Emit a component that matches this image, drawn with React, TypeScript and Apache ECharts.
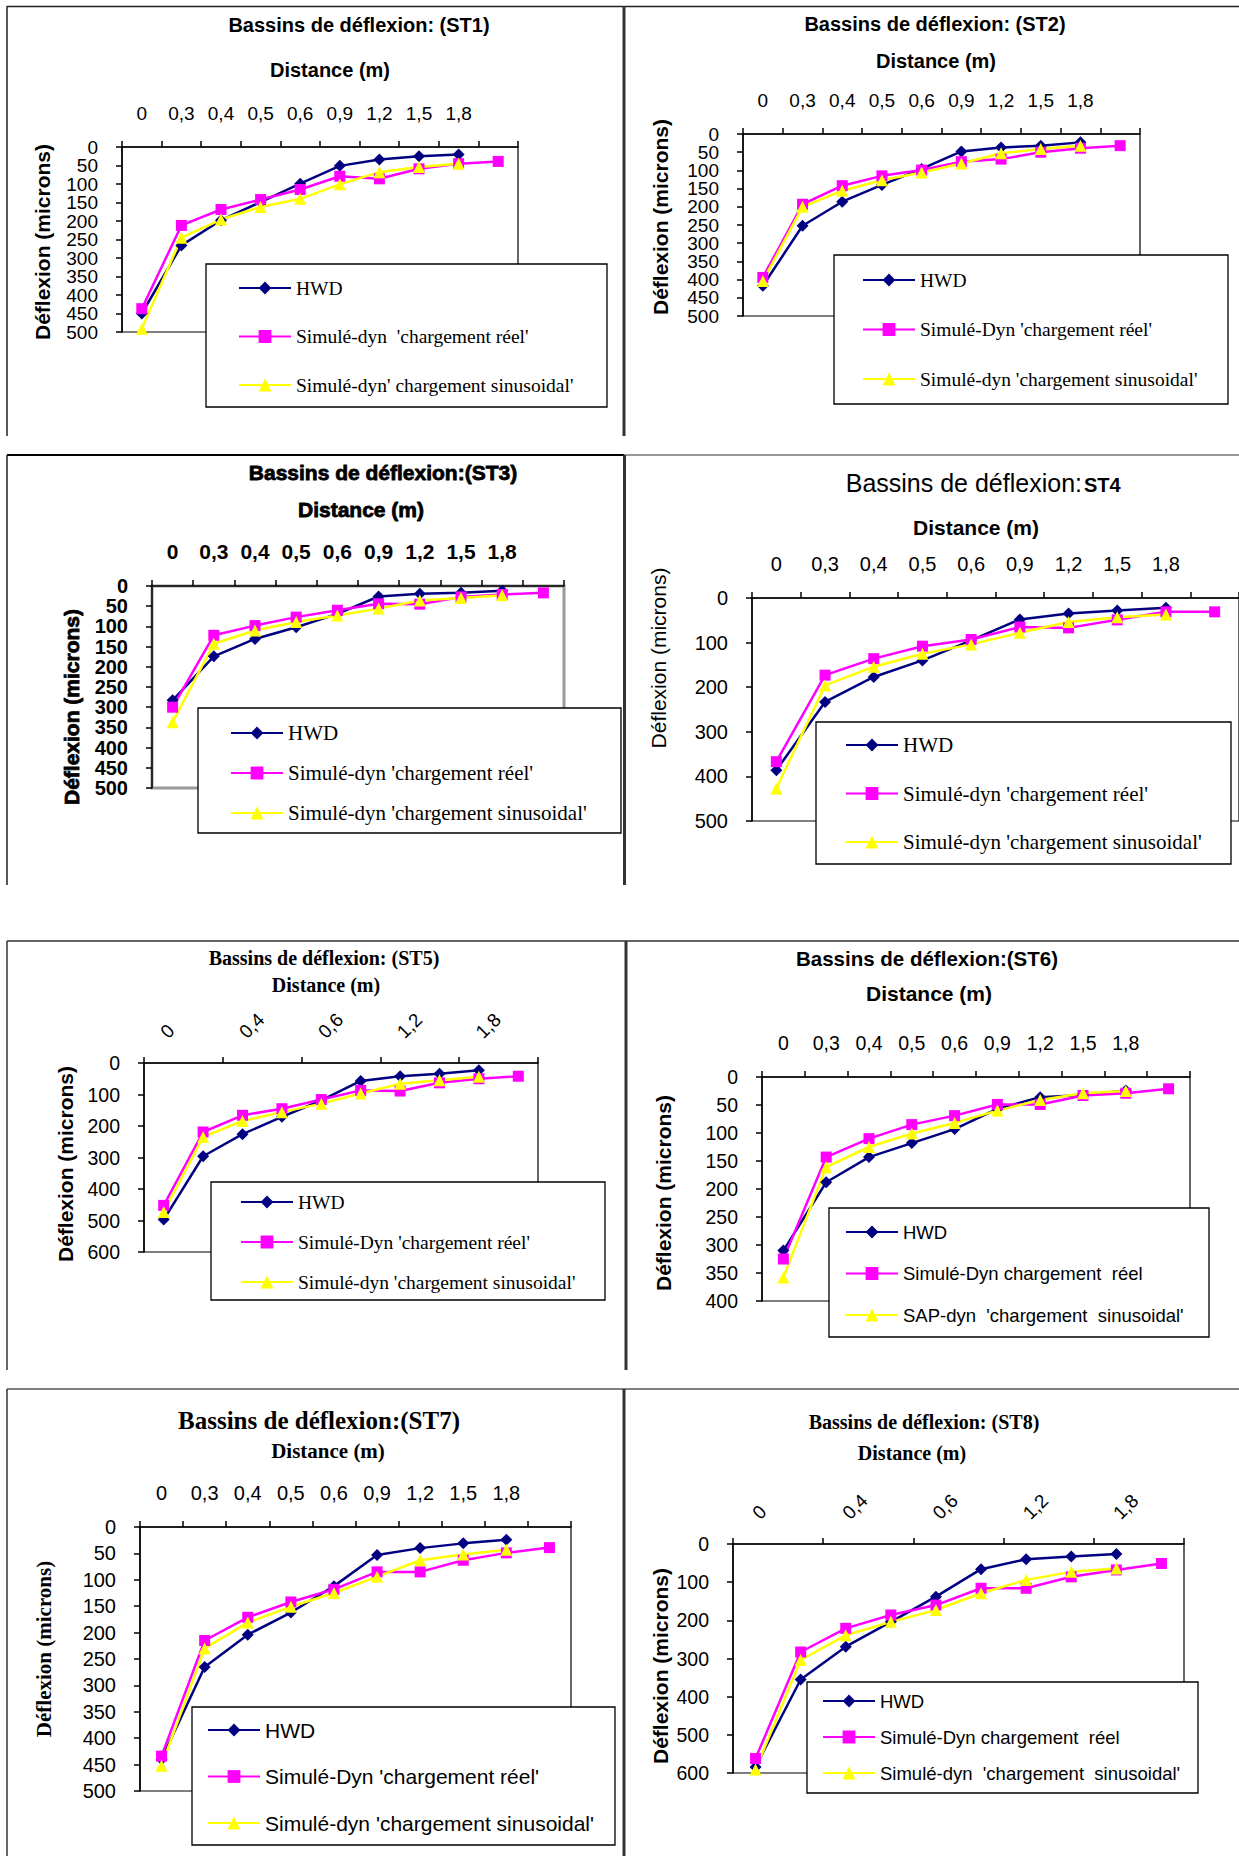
import React, { useEffect, useRef } from "react";
import * as echarts from "echarts";

// ---------- DATA ----------
const CATEGORIES = ["0", "0,3", "0,4", "0,5", "0,6", "0,9", "1,2", "1,5", "1,8", ""];

const ST1_HWD = [450, 266, 198, 149, 99, 51, 34, 25, 20];
const ST1_REEL = [437, 212, 169, 142, 115, 79, 86, 59, 45, 39];
const ST1_SINUS = [491, 245, 196, 162, 140, 101, 68, 54, 45];

const ST2_HWD = [417, 252, 186, 140, 96, 48, 37, 32, 23];
const ST2_REEL = [394, 193, 142, 115, 99, 76, 69, 50, 39, 32];
const ST2_SINUS = [404, 200, 156, 127, 106, 81, 53, 41, 32];

const ST3_HWD = [283, 174, 131, 102, 69, 26, 19, 17, 12];
const ST3_REEL = [300, 122, 98, 77, 60, 44, 45, 27, 21, 17];
const ST3_SINUS = [337, 143, 110, 89, 73, 56, 36, 30, 23];

const ST4_HWD = [386, 233, 177, 140, 95, 48, 35, 28, 22];
const ST4_REEL = [367, 173, 136, 108, 93, 65, 67, 49, 31, 31];
const ST4_SINUS = [427, 196, 154, 125, 104, 78, 54, 43, 37];

const ST5_HWD = [497, 296, 226, 171, 119, 57, 42, 34, 23];
const ST5_REEL = [452, 219, 166, 145, 116, 87, 89, 63, 50, 42];
const ST5_SINUS = [473, 235, 184, 156, 129, 97, 66, 55, 44];

const ST6_HWD = [310, 188, 143, 118, 93, 57, 36, 32, 24];
const ST6_REEL = [325, 143, 110, 85, 69, 49, 49, 33, 29, 21];
const ST6_SINUS = [358, 161, 125, 101, 82, 60, 41, 29, 25];

const ST7_HWD = [440, 265, 204, 162, 112, 53, 40, 31, 24];
const ST7_REEL = [434, 215, 171, 142, 118, 85, 85, 63, 49, 39];
const ST7_SINUS = [452, 230, 181, 151, 125, 94, 63, 52, 43];

const ST8_HWD = [584, 355, 269, 204, 138, 66, 40, 33, 26];
const ST8_REEL = [562, 283, 221, 186, 160, 116, 116, 86, 68, 51];
const ST8_SINUS = [591, 304, 239, 204, 173, 129, 94, 73, 64];

// ---------- STYLE ----------
const SANS = "'Liberation Sans', Arial, Helvetica, sans-serif";
const SERIF = "'Liberation Serif', 'Times New Roman', serif";
const NAVY = "#000080";
const MAGENTA = "#ff00ff";
const YELLOW = "#ffff00";

type Txt = { text: string; x: number; y: number; font: string; heavy?: boolean; align?: string; rot?: boolean };

interface Panel {
  hwd: number[];
  reel: number[];
  sinus: number[];
  names: string[];
  yMax: number;
  yStep: number;
  grid: number[];
  gray?: boolean;
  rotate?: boolean;
  tick: { size: number; ySize: number; weight: string };
  texts: Txt[];
  box: number[];
  legend: { left: number; top: number; gap: number; size: number; family: string };
}

const PANELS: Panel[] = [
  {
    hwd: ST1_HWD, reel: ST1_REEL, sinus: ST1_SINUS,
    names: ["HWD", "Simulé-dyn  'chargement réel'", "Simulé-dyn' chargement sinusoidal'"],
    yMax: 500, yStep: 50, grid: [122, 147, 396, 185],
    tick: { size: 19, ySize: 19, weight: "normal" },
    texts: [
      { text: "Bassins de déflexion: (ST1)", x: 359, y: 25, font: `bold 20px ${SANS}` },
      { text: "Distance (m)", x: 330, y: 70, font: `bold 20px ${SANS}` },
      { text: "Déflexion (microns)", x: 42, y: 242, font: `bold 21px ${SANS}`, rot: true },
    ],
    box: [206, 264, 607, 407],
    legend: { left: 238, top: 277, gap: 26.5, size: 19.5, family: SERIF },
  },
  {
    hwd: ST2_HWD, reel: ST2_REEL, sinus: ST2_SINUS,
    names: ["HWD", "Simulé-Dyn 'chargement réel'", "Simulé-dyn 'chargement sinusoidal'"],
    yMax: 500, yStep: 50, grid: [743, 134, 397, 182],
    tick: { size: 19, ySize: 19, weight: "normal" },
    texts: [
      { text: "Bassins de déflexion: (ST2)", x: 935, y: 24, font: `bold 20px ${SANS}` },
      { text: "Distance (m)", x: 936, y: 61, font: `bold 20px ${SANS}` },
      { text: "Déflexion (microns)", x: 660, y: 217, font: `bold 21px ${SANS}`, rot: true },
    ],
    box: [834, 255, 1228, 404],
    legend: { left: 862, top: 269, gap: 27.5, size: 19.5, family: SERIF },
  },
  {
    hwd: ST3_HWD, reel: ST3_REEL, sinus: ST3_SINUS,
    names: ["HWD", "Simulé-dyn 'chargement réel'", "Simulé-dyn 'chargement sinusoidal'"],
    yMax: 500, yStep: 50, grid: [152, 586, 412, 202], gray: true,
    tick: { size: 21, ySize: 20, weight: "bold" },
    texts: [
      { text: "Bassins de déflexion:(ST3)", x: 383, y: 472, font: `bold 21px ${SANS}`, heavy: true },
      { text: "Distance (m)", x: 361, y: 509, font: `bold 21px ${SANS}`, heavy: true },
      { text: "Déflexion (microns)", x: 71, y: 707, font: `bold 21px ${SANS}`, heavy: true, rot: true },
    ],
    box: [198, 708, 621, 833],
    legend: { left: 230, top: 722, gap: 18, size: 21, family: SERIF },
  },
  {
    hwd: ST4_HWD, reel: ST4_REEL, sinus: ST4_SINUS,
    names: ["HWD", "Simulé-dyn 'chargement réel'", "Simulé-dyn 'chargement sinusoidal'"],
    yMax: 500, yStep: 100, grid: [752, 598, 490, 223],
    tick: { size: 20, ySize: 20, weight: "normal" },
    texts: [
      { text: "Bassins de déflexion:", x: 1082, y: 483, font: `25px ${SANS}`, align: "right" },
      { text: "ST4", x: 1084, y: 485, font: `bold 20px ${SANS}`, align: "left" },
      { text: "Distance (m)", x: 976, y: 527, font: `bold 21px ${SANS}` },
      { text: "Déflexion (microns)", x: 658, y: 658, font: `21px ${SANS}`, rot: true },
    ],
    box: [816, 722, 1231, 864],
    legend: { left: 845, top: 734, gap: 26.5, size: 21, family: SERIF },
  },
  {
    hwd: ST5_HWD, reel: ST5_REEL, sinus: ST5_SINUS,
    names: ["HWD", "Simulé-Dyn 'chargement réel'", "Simulé-dyn 'chargement sinusoidal'"],
    yMax: 600, yStep: 100, grid: [144, 1063, 394, 189], rotate: true,
    tick: { size: 19, ySize: 19.5, weight: "normal" },
    texts: [
      { text: "Bassins de déflexion: (ST5)", x: 324, y: 958, font: `bold 20px ${SERIF}` },
      { text: "Distance (m)", x: 326, y: 985, font: `bold 20px ${SERIF}` },
      { text: "Déflexion (microns)", x: 65, y: 1164, font: `bold 21px ${SANS}`, rot: true },
    ],
    box: [211, 1182, 605, 1300],
    legend: { left: 240, top: 1191, gap: 18, size: 19.5, family: SERIF },
  },
  {
    hwd: ST6_HWD, reel: ST6_REEL, sinus: ST6_SINUS,
    names: ["HWD", "Simulé-Dyn chargement  réel", "SAP-dyn  'chargement  sinusoidal'"],
    yMax: 400, yStep: 50, grid: [762, 1077, 428, 224],
    tick: { size: 19.5, ySize: 19.5, weight: "normal" },
    texts: [
      { text: "Bassins de déflexion:(ST6)", x: 927, y: 958, font: `bold 20.5px ${SANS}` },
      { text: "Distance (m)", x: 929, y: 993, font: `bold 21px ${SANS}` },
      { text: "Déflexion (microns)", x: 663, y: 1193, font: `bold 21px ${SANS}`, rot: true },
    ],
    box: [829, 1208, 1209, 1337],
    legend: { left: 845, top: 1221, gap: 19.5, size: 18.5, family: SANS },
  },
  {
    hwd: ST7_HWD, reel: ST7_REEL, sinus: ST7_SINUS,
    names: ["HWD", "Simulé-Dyn 'chargement réel'", "Simulé-dyn 'chargement sinusoidal'"],
    yMax: 500, yStep: 50, grid: [140, 1527, 431, 264],
    tick: { size: 20, ySize: 20, weight: "normal" },
    texts: [
      { text: "Bassins de déflexion:(ST7)", x: 319, y: 1420, font: `bold 25px ${SERIF}` },
      { text: "Distance (m)", x: 328, y: 1451, font: `bold 21px ${SERIF}` },
      { text: "Déflexion (microns)", x: 44, y: 1649, font: `bold 21px ${SERIF}`, rot: true },
    ],
    box: [192, 1707, 615, 1845],
    legend: { left: 207, top: 1719, gap: 24.5, size: 21, family: SANS },
  },
  {
    hwd: ST8_HWD, reel: ST8_REEL, sinus: ST8_SINUS,
    names: ["HWD", "Simulé-Dyn chargement  réel", "Simulé-dyn  'chargement  sinusoidal'"],
    yMax: 600, yStep: 100, grid: [733, 1544, 451, 229], rotate: true,
    tick: { size: 19, ySize: 19.5, weight: "normal" },
    texts: [
      { text: "Bassins de déflexion: (ST8)", x: 924, y: 1422, font: `bold 20px ${SERIF}` },
      { text: "Distance (m)", x: 912, y: 1453, font: `bold 20px ${SERIF}` },
      { text: "Déflexion (microns)", x: 660, y: 1666, font: `bold 21px ${SANS}`, rot: true },
    ],
    box: [807, 1682, 1198, 1793],
    legend: { left: 822, top: 1690, gap: 14, size: 18.5, family: SANS },
  },
];

// Panel frame lines
const FRAMES: { p: number[]; c: string; w: number }[] = [
  { p: [7, 6.5, 1239, 6.5], c: "#222", w: 1.5 },
  { p: [7, 6, 7, 436], c: "#222", w: 1.5 },
  { p: [624, 6, 624, 436], c: "#333", w: 3 },
  { p: [7, 455, 624, 455], c: "#000", w: 2 },
  { p: [624, 455, 1239, 455], c: "#777", w: 1.5 },
  { p: [7, 455, 7, 885], c: "#222", w: 1.5 },
  { p: [624.5, 455, 624.5, 885], c: "#333", w: 3 },
  { p: [7, 941, 1239, 941], c: "#333", w: 1.5 },
  { p: [7, 941, 7, 1370], c: "#333", w: 1.5 },
  { p: [626, 941, 626, 1370], c: "#333", w: 3 },
  { p: [7, 1389, 1239, 1389], c: "#555", w: 1.5 },
  { p: [7, 1389, 7, 1856], c: "#333", w: 1.5 },
  { p: [624, 1389, 624, 1856], c: "#333", w: 3 },
];

function buildOption() {
  const axisLineStyle = { color: "#000", width: 1.5 };
  const grid = PANELS.map((p) => ({
    left: p.grid[0], top: p.grid[1], width: p.grid[2], height: p.grid[3],
    show: true,
    backgroundColor: "rgba(0,0,0,0)",
    borderColor: p.gray ? "#9a9a9a" : "#000",
    borderWidth: p.gray ? 3 : 1.2,
  }));
  const xAxis = PANELS.map((p, i) => ({
    type: "category",
    gridIndex: i,
    position: "top",
    data: CATEGORIES,
    boundaryGap: true,
    axisLine: { show: true, lineStyle: axisLineStyle },
    axisTick: { show: true, length: 6, lineStyle: axisLineStyle },
    splitLine: { show: false },
    axisLabel: {
      interval: p.rotate ? 1 : 0,
      rotate: p.rotate ? 45 : 0,
      margin: p.rotate ? 28 : 24,
      hideOverlap: false,
      color: "#000",
      fontFamily: SANS,
      fontSize: p.tick.size,
      fontWeight: p.tick.weight,
    },
  }));
  const labelStyle = (p: Panel) => ({
    margin: 24,
    hideOverlap: false,
    color: "#000",
    fontFamily: SANS,
    fontSize: p.tick.ySize,
    fontWeight: p.tick.weight,
  });
  // main value axes: inner labels (first/last are drawn by the companion axis below)
  const yMain = PANELS.map((p, i) => ({
    type: "value",
    gridIndex: i,
    position: "left",
    inverse: true,
    min: 0,
    max: p.yMax,
    interval: p.yStep,
    axisLine: { show: true, lineStyle: axisLineStyle },
    axisTick: { show: true, length: 6, lineStyle: axisLineStyle },
    splitLine: { show: false },
    axisLabel: { ...labelStyle(p), showMinLabel: false, showMaxLabel: false },
  }));
  // companion axes on the same scale carrying the end labels (0 and max)
  const yEnds = PANELS.map((p, i) => ({
    type: "value",
    gridIndex: i,
    position: "left",
    inverse: true,
    min: 0,
    max: p.yMax,
    interval: p.yMax,
    axisLine: { show: false },
    axisTick: { show: true, length: 6, lineStyle: axisLineStyle },
    splitLine: { show: false },
    axisLabel: { ...labelStyle(p), showMinLabel: true, showMaxLabel: true },
  }));
  const series: any[] = [];
  PANELS.forEach((p, i) => {
    const common = { type: "line", xAxisIndex: i, yAxisIndex: i, showAllSymbol: true, z: 2 };
    series.push({
      ...common, name: p.names[0], data: p.hwd, symbol: "diamond", symbolSize: 12,
      lineStyle: { color: NAVY, width: 2.5 }, itemStyle: { color: NAVY },
    });
    series.push({
      ...common, name: p.names[1], data: p.reel, symbol: "rect", symbolSize: 11,
      lineStyle: { color: MAGENTA, width: 2.5 }, itemStyle: { color: MAGENTA },
    });
    series.push({
      ...common, name: p.names[2], data: p.sinus, symbol: "triangle", symbolSize: 12,
      lineStyle: { color: YELLOW, width: 2.5 }, itemStyle: { color: YELLOW },
    });
  });
  const legend = PANELS.map((p) => ({
    orient: "vertical",
    left: p.legend.left,
    top: p.legend.top,
    itemGap: p.legend.gap,
    itemWidth: 52,
    itemHeight: 16,
    padding: 0,
    selectedMode: false,
    data: p.names,
    textStyle: { color: "#000", fontFamily: p.legend.family, fontSize: p.legend.size, lineHeight: 22 },
  }));

  const elements: any[] = [];
  FRAMES.forEach((f) => {
    elements.push({
      type: "line", z: 6,
      shape: { x1: f.p[0], y1: f.p[1], x2: f.p[2], y2: f.p[3] },
      style: { stroke: f.c, lineWidth: f.w },
    });
  });
  PANELS.forEach((p) => {
    elements.push({
      type: "rect", z: 3,
      shape: { x: p.box[0], y: p.box[1], width: p.box[2] - p.box[0], height: p.box[3] - p.box[1] },
      style: { fill: "#fff", stroke: "#000", lineWidth: 1.3 },
    });
    p.texts.forEach((t) => {
      const style: any = {
        text: t.text,
        font: t.font,
        fill: "#000",
        textAlign: t.align || "center",
        textVerticalAlign: "middle",
      };
      if (t.heavy) {
        style.stroke = "#000";
        style.lineWidth = 0.8;
      }
      elements.push({
        type: "text", z: 5,
        x: t.x, y: t.y,
        rotation: t.rot ? Math.PI / 2 : 0,
        style,
      });
    });
  });

  return {
    animation: false,
    backgroundColor: "#fff",
    grid,
    xAxis,
    yAxis: [...yMain, ...yEnds],
    series,
    legend,
    graphic: { elements },
  };
}

export default function App() {
  const ref = useRef<HTMLDivElement>(null);
  useEffect(() => {
    document.body.style.margin = "0";
    const chart = echarts.init(ref.current as HTMLDivElement, undefined, {
      renderer: "svg",
      width: 1239,
      height: 1856,
    });
    chart.setOption(buildOption() as any);
    return () => chart.dispose();
  }, []);
  return (
    <div
      ref={ref}
      style={{ position: "absolute", left: 0, top: 0, width: 1239, height: 1856, background: "#fff" }}
    />
  );
}
